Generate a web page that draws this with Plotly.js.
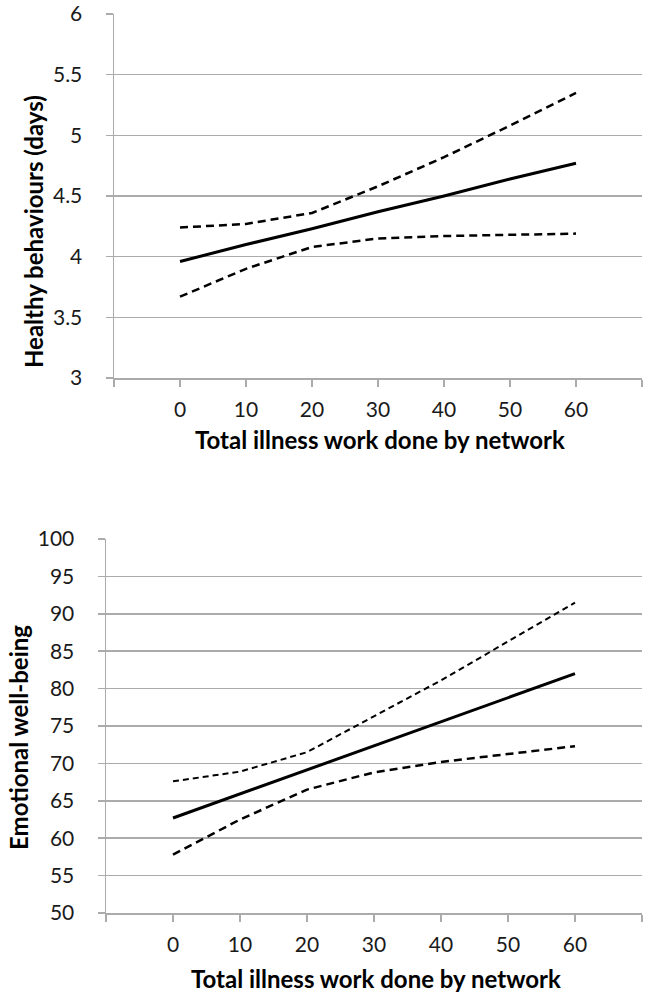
<!DOCTYPE html>
<html>
<head>
<meta charset="utf-8">
<script src="https://cdn.plot.ly/plotly-3.0.1.min.js"></script>
<style>html,body{margin:0;padding:0;background:#fff;}#chart{width:649px;height:996px;}</style>
</head>
<body>
<div id="chart"></div>
<script>
// Data
var illnessWork = [0, 10, 20, 30, 40, 50, 60];
var healthyEstimate = [3.96, 4.10, 4.23, 4.37, 4.50, 4.64, 4.77];
var healthyUpper = [4.24, 4.27, 4.36, 4.58, 4.82, 5.08, 5.35];
var healthyLower = [3.67, 3.90, 4.08, 4.15, 4.17, 4.18, 4.19];
var emotionalEstimate = [62.7, 65.9, 69.1, 72.4, 75.6, 78.8, 82.0];
var emotionalUpper = [67.6, 68.9, 71.5, 76.3, 81.1, 86.3, 91.5];
var emotionalLower = [57.8, 62.5, 66.5, 68.8, 70.2, 71.3, 72.3];
var xTickVals = [-10, 0, 10, 20, 30, 40, 50, 60, 70];
var xTickText = ['', '0', '10', '20', '30', '40', '50', '60', ''];
var healthyTicks = [3, 3.5, 4, 4.5, 5, 5.5, 6];
var emotionalTicks = [50, 55, 60, 65, 70, 75, 80, 85, 90, 95, 100];

var W = 649, H = 996;
var FONT = 'Lato, "Open Sans", sans-serif';
var grid = '#ababab';

function solid(x, y, xa, ya) {
  return {x: x, y: y, xaxis: xa, yaxis: ya, type: 'scatter', mode: 'lines',
    line: {color: '#000', width: 3}, hoverinfo: 'skip', showlegend: false};
}
function dashed(x, y, xa, ya, w, d) {
  return {x: x, y: y, xaxis: xa, yaxis: ya, type: 'scatter', mode: 'lines',
    line: {color: '#000', width: w, dash: d}, hoverinfo: 'skip', showlegend: false};
}

var traces = [
  dashed(illnessWork, healthyUpper, 'x', 'y', 2.5, '8px,5px'),
  dashed(illnessWork, healthyLower, 'x', 'y', 2.5, '8px,5px'),
  solid(illnessWork, healthyEstimate, 'x', 'y'),
  dashed(illnessWork, emotionalUpper, 'x2', 'y2', 2, '6px,4px'),
  dashed(illnessWork, emotionalLower, 'x2', 'y2', 2.5, '8px,5px'),
  solid(illnessWork, emotionalEstimate, 'x2', 'y2')
];

function xAxis(domain, anchor) {
  return {domain: domain, anchor: anchor, range: [-10, 70], tickmode: 'array',
    tickvals: xTickVals, ticktext: xTickText, showgrid: false, zeroline: false,
    showline: true, linecolor: grid, linewidth: 1.5, ticks: 'outside', ticklen: 7,
    tickcolor: grid, tickwidth: 1.5, tickfont: {family: FONT, size: 21, color: '#1a1a1a'},
    ticklabelstandoff: 5, fixedrange: true};
}
function yAxis(domain, anchor, range, ticks) {
  return {domain: domain, anchor: anchor, range: range, tickmode: 'array',
    tickvals: ticks, showgrid: true, gridcolor: grid, gridwidth: 1.5, zeroline: false,
    showline: true, linecolor: grid, linewidth: 1.5, ticks: 'outside', ticklen: 7,
    tickcolor: grid, tickwidth: 1.5, tickfont: {family: FONT, size: 21, color: '#1a1a1a'},
    ticklabelstandoff: 19, fixedrange: true};
}

var layout = {
  width: W, height: H,
  margin: {l: 0, r: 0, t: 0, b: 0},
  paper_bgcolor: '#fff', plot_bgcolor: '#fff',
  showlegend: false,
  xaxis: xAxis([114 / W, 642 / W], 'y'),
  yaxis: yAxis([1 - 378 / H, 1 - 14 / H], 'x', [3, 6], healthyTicks),
  xaxis2: xAxis([106 / W, 642 / W], 'y2'),
  yaxis2: yAxis([1 - 913 / H, 1 - 539 / H], 'x2', [50, 100], emotionalTicks),
  annotations: [
    {text: '<b>Total illness work done by network</b>', xref: 'paper', yref: 'paper',
      x: 380 / W, y: 1 - 440 / H, xanchor: 'center', yanchor: 'middle', showarrow: false,
      font: {family: FONT, size: 24, color: '#000'}},
    {text: '<b>Healthy behaviours (days)</b>', xref: 'paper', yref: 'paper',
      x: 33 / W, y: 1 - 232 / H, xanchor: 'center', yanchor: 'middle', showarrow: false,
      textangle: -90, font: {family: FONT, size: 24, color: '#000'}},
    {text: '<b>Total illness work done by network</b>', xref: 'paper', yref: 'paper',
      x: 376 / W, y: 1 - 978 / H, xanchor: 'center', yanchor: 'middle', showarrow: false,
      font: {family: FONT, size: 24, color: '#000'}},
    {text: '<b>Emotional well-being</b>', xref: 'paper', yref: 'paper',
      x: 18 / W, y: 1 - 738 / H, xanchor: 'center', yanchor: 'middle', showarrow: false,
      textangle: -90, font: {family: FONT, size: 24, color: '#000'}}
  ]
};

Plotly.newPlot('chart', traces, layout, {staticPlot: true, displayModeBar: false});
</script>
</body>
</html>
